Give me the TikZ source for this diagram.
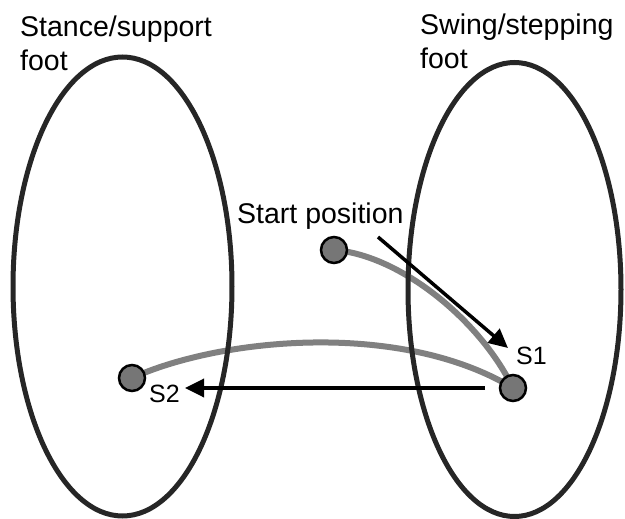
\documentclass[tikz,border=0pt]{standalone}
\usepackage{fontspec}
\setmainfont{Liberation Sans}
\usetikzlibrary{arrows.meta}
\definecolor{footline}{HTML}{262626}
\definecolor{pathgray}{HTML}{808080}
\definecolor{dotgray}{HTML}{767676}
\tikzset{
  foot/.style={draw=footline, line width=5pt},
  pathcurve/.style={draw=pathgray, line width=6pt},
  dotnode/.style={circle, draw=black, fill=dotgray, line width=2.5pt, minimum size=26pt, inner sep=0pt},
  moveArrow/.style={draw=black, line width=3.5pt, -{Triangle[length=19pt,width=18pt]}},
  title/.style={font=\fontsize{28.5}{34}\selectfont, inner sep=0pt, align=left, anchor=north west},
  lbl/.style={font=\fontsize{25}{29}\selectfont, inner sep=0pt, anchor=base west}
}
\begin{document}
\begin{tikzpicture}[x=1pt,y=-1pt]
\useasboundingbox (0,0) rectangle (625,519);
% positions
\coordinate (startc) at (334,250);
\coordinate (s1c) at (513,388);
\coordinate (s2c) at (132,378);
% gray foot paths
\draw[pathcurve] (startc) .. controls (400,255) and (480,320) .. (s1c);
\draw[pathcurve] (s2c) .. controls (220,338) and (400,320) .. (s1c);
% feet
\draw[foot] (122.5,286.5) ellipse [x radius=109.5, y radius=229.5];
\draw[foot] (514.5,289.5) ellipse [x radius=106.5, y radius=227];
% titles
\node[title] (stance) at (20,16) {Stance/support\\foot};
\node[title] (swing) at (420,14) {Swing/stepping\\foot};
\node[lbl, font=\fontsize{28.5}{34}\selectfont] (startlbl) at (237,223) {Start position};
\node[lbl] (s1lbl) at (516,364) {S1};
\node[lbl] (s2lbl) at (149,402) {S2};
% dots
\node[dotnode] (start) at (startc) {};
\node[dotnode] (s1) at (s1c) {};
\node[dotnode] (s2) at (s2c) {};
% arrows
\coordinate (a1s) at (378,237);
\coordinate (a1e) at (508,348);
\coordinate (a2s) at (485,388);
\coordinate (a2e) at (185,388);
\draw[moveArrow] (a1s) -- (a1e);
\draw[moveArrow] (a2s) -- (a2e);
\end{tikzpicture}
\end{document}
